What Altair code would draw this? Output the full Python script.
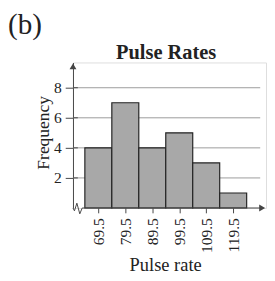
import altair as alt
import pandas as pd

midpoints = [69.5, 79.5, 89.5, 99.5, 109.5, 119.5]
frequency = [4, 7, 4, 5, 3, 1]
grid_values = [2, 4, 6, 8]

X_MIN, X_MAX = 60.1, 131.68
Y_MIN, Y_MAX = 0, 9.68
X_ARROW, Y_ARROW = 130.24, 9.42
FONT = "Liberation Serif"
INK = "#222222"

bars_df = pd.DataFrame({
    "mid": midpoints,
    "lo": [m - 5 for m in midpoints],
    "hi": [m + 5 for m in midpoints],
    "freq": frequency,
})

xs = alt.Scale(domain=[X_MIN, X_MAX], nice=False, zero=False)
ys = alt.Scale(domain=[Y_MIN, Y_MAX], nice=False, zero=True)

xaxis = alt.Axis(values=midpoints, labelAngle=-90, labelAlign="right",
                 labelBaseline="middle", labelFont=FONT, labelFontSize=16,
                 labelColor=INK, tickColor="#444", tickSize=5,
                 domain=False, grid=False, labelPadding=5,
                 labelOverlap=False, labelBound=False, labelFlush=False,
                 title="Pulse rate", titleFont=FONT, titleFontSize=19,
                 titleFontWeight="normal", titleColor=INK,
                 titleX=95, titleY=64, titleBaseline="alphabetic",
                 titleAlign="center", format=".1f")
yaxis = alt.Axis(values=grid_values, labelFont=FONT, labelFontSize=16,
                 labelColor=INK, tickColor="#444", tickSize=8,
                 domainColor="#444", grid=False, labelPadding=4,
                 labelOverlap=False,
                 title="Frequency", titleFont=FONT, titleFontSize=18,
                 titleFontWeight="normal", titleColor=INK,
                 titleX=-25, titleY=72, titleAngle=-90,
                 titleBaseline="alphabetic", titleAlign="center")


def X(field):
    return alt.X(field, scale=xs, axis=xaxis)


def Y(field):
    return alt.Y(field, scale=ys, axis=yaxis)


grid = alt.Chart(pd.DataFrame({"g": grid_values})).mark_rule(
    color="#9a9a9a", strokeWidth=1
).encode(
    y=Y("g:Q"),
    x=alt.value(0),
    x2=alt.value(193),
)
tick_in = alt.Chart(pd.DataFrame({"g": grid_values})).mark_rule(
    color="#444", strokeWidth=1
).encode(
    y=Y("g:Q"),
    x=alt.value(0),
    x2=alt.value(5),
)

bars = alt.Chart(bars_df).mark_bar(
    color="#a8a8a8", stroke=INK, strokeWidth=1.2
).encode(
    x=X("lo:Q"),
    x2="hi:Q",
    y=Y("freq:Q"),
    y2=alt.datum(0),
)

# x-axis line (with break) and arrows
axis_df = pd.DataFrame({"a": [63.52], "b": [X_ARROW], "y": [0]})
xline = alt.Chart(axis_df).mark_rule(color="#444", strokeWidth=1).encode(
    x=X("a:Q"), x2="b:Q", y=Y("y:Q")
)
zig_df = pd.DataFrame({
    "x": [60.1, 60.64, 61.54, 62.62, 63.52],
    "y": [0, -0.19, 0.32, -0.39, 0],
    "o": [0, 1, 2, 3, 4],
})
zig = alt.Chart(zig_df).mark_line(color="#444", strokeWidth=1).encode(
    x=X("x:Q"), y=Y("y:Q"), order="o:Q"
)
arrow_r = alt.Chart(pd.DataFrame({"x": [X_ARROW], "y": [0]})).mark_point(
    shape="triangle-right", filled=True, color="#444", size=50, opacity=1
).encode(x=X("x:Q"), y=Y("y:Q"))
arrow_u = alt.Chart(pd.DataFrame({"x": [X_MIN], "y": [Y_ARROW]})).mark_point(
    shape="triangle-up", filled=True, color="#444", size=50, opacity=1
).encode(x=X("x:Q"), y=Y("y:Q"))

label_b = alt.Chart(pd.DataFrame({"t": ["(b)"]})).mark_text(
    font=FONT, fontSize=30, align="left", baseline="alphabetic", color=INK
).encode(text="t:N", x=alt.value(-67), y=alt.value(-29))

title_t = alt.Chart(pd.DataFrame({"t": ["Pulse Rates"]})).mark_text(
    font=FONT, fontSize=21, fontWeight="bold", align="center",
    baseline="alphabetic", color=INK
).encode(text="t:N", x=alt.value(96), y=alt.value(-4))

chart = alt.layer(grid, tick_in, bars, xline, zig, arrow_r, arrow_u,
                  label_b, title_t).properties(
    width=199, height=150,
    padding={"left": 67, "top": 52, "right": 1, "bottom": 68},
    autosize=alt.AutoSizeParams(type="none"),
).configure_view(stroke=None).configure(background="white")

chart.save("out.html", embed_options={"renderer": "svg", "actions": False})
